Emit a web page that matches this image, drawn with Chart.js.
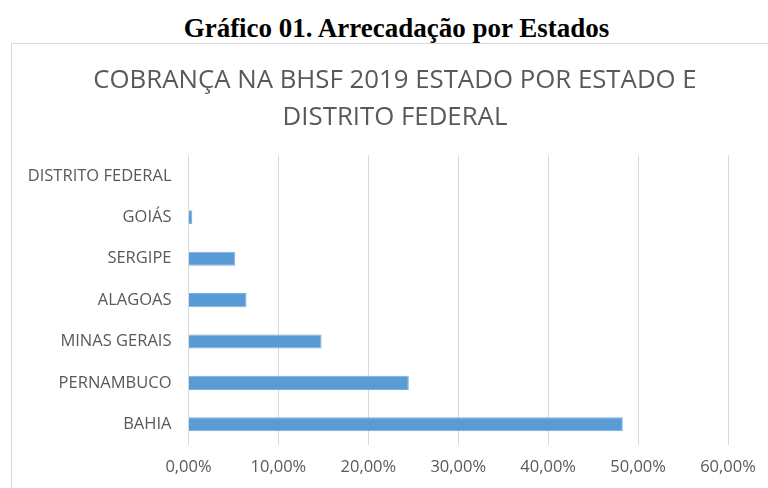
<!DOCTYPE html>
<html>
<head>
<meta charset="utf-8">
<script src="https://cdn.jsdelivr.net/npm/chart.js@4/dist/chart.umd.min.js"></script>
<style>
  body { margin: 0; background: #fff; width: 768px; height: 488px; overflow: hidden; position: relative; }
  #heading {
    position: absolute; left: 0; top: 15px; width: 793px; text-align: center;
    font: bold 27px/27px "Liberation Serif", "Times New Roman", serif; color: #000;
  }
  #frame {
    position: absolute; left: 11px; top: 43px; width: 780px; height: 470px;
    border: 1px solid #d9d9d9;
  }
  #chart { position: absolute; left: 0; top: 0; }
</style>
</head>
<body>
<div id="heading">Gráfico 01. Arrecadação por Estados</div>
<div id="frame"><canvas id="chart" width="766" height="444"></canvas></div>
<script>
const categories = ['DISTRITO FEDERAL', 'GOIÁS', 'SERGIPE', 'ALAGOAS', 'MINAS GERAIS', 'PERNAMBUCO', 'BAHIA'];
const shares = [0, 0.42, 5.2, 6.45, 14.8, 24.5, 48.3];
const axisMax = 60;
const axisStep = 10;

const FONT = "'Open Sans', Lato, sans-serif";
const GRAY = '#595959';

const ctx = document.getElementById('chart').getContext('2d');
new Chart(ctx, {
    type: 'bar',
    data: {
        labels: categories,
        datasets: [{
            data: shares,
            backgroundColor: '#5B9BD5',
            borderColor: '#7AAEDD',
            borderWidth: 1,
            barPercentage: 0.34,
            categoryPercentage: 1,
        }]
    },
    options: {
        indexAxis: 'y',
        responsive: false,
        animation: false,
        layout: { padding: 0 },
        plugins: {
            legend: { display: false },
            tooltip: { enabled: false },
            title: {
                display: true,
                text: ['COBRANÇA NA BHSF 2019 ESTADO POR ESTADO E', 'DISTRITO FEDERAL'],
                color: GRAY,
                font: { family: FONT, size: 25.8, weight: 'normal', lineHeight: 1.4 },
                padding: { top: 19, bottom: 20 },
            }
        },
        scales: {
            x: {
                min: 0,
                max: axisMax,
                border: { display: false },
                grid: { color: '#d9d9d9', drawTicks: false },
                ticks: {
                    stepSize: axisStep,
                    padding: 12,
                    color: GRAY,
                    font: { family: FONT, size: 16.5 },
                    callback: v => v.toFixed(2).replace('.', ',') + '%',
                },
                afterFit(scale) { scale.height = 43; },
            },
            y: {
                border: { display: false },
                grid: { display: false },
                ticks: {
                    padding: 9,
                    color: GRAY,
                    font: { family: FONT, size: 16.5 },
                },
                afterFit(scale) { scale.width = 176.5; },
            },
            // empty right-hand strip so the plot ends at 60% where the reference does
            yRight: {
                type: 'category',
                position: 'right',
                border: { display: false },
                grid: { display: false },
                ticks: { display: false },
                afterFit(scale) { scale.width = 50; },
            }
        }
    }
});
</script>
</body>
</html>
